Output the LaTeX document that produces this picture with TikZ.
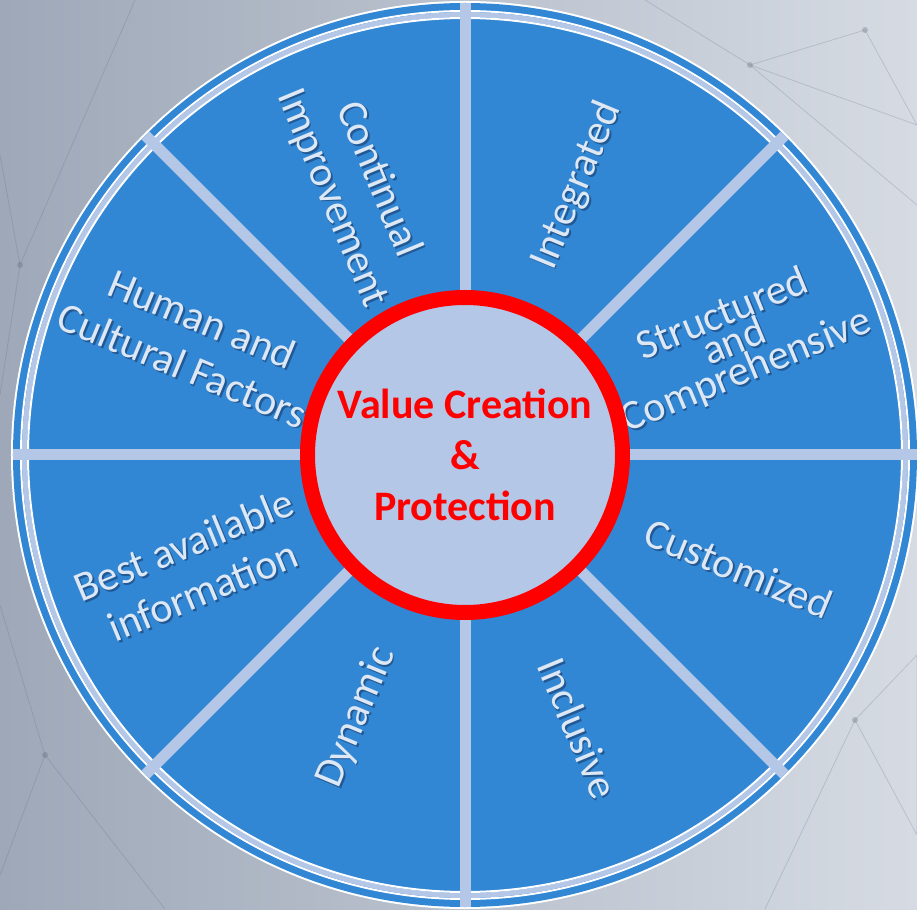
\documentclass[tikz,border=0pt]{standalone}
\usepackage{fontspec}
\setmainfont{Carlito}
\definecolor{bgL}{RGB}{158,168,184}
\definecolor{bgR}{RGB}{214,219,227}
\definecolor{wheel}{RGB}{50,135,213}
\definecolor{sepc}{RGB}{180,199,231}
\definecolor{lblc}{RGB}{222,232,244}
\definecolor{shadc}{RGB}{15,35,70}
\definecolor{netc}{RGB}{90,100,118}
\tikzset{
  x=1pt, y=1pt,
  lab/.style={text=lblc, font=\fontsize{42}{50}\selectfont, align=center, inner sep=0pt},
  labsh/.style={text=shadc, text opacity=0.45, font=\fontsize{42}{50}\selectfont, align=center, inner sep=0pt},
  tight/.style={font=\fontsize{42}{30.5}\selectfont},
  sepline/.style={draw=sepc, line width=11pt},
  net/.style={draw=netc, line width=0.8pt, opacity=0.22},
  netdot/.style={fill=netc, opacity=0.3},
  core/.style={circle, draw=red, line width=15pt, fill=sepc, minimum size=315pt, inner sep=0pt,
     text=red, font=\fontsize{42}{51}\selectfont\bfseries, align=center},
}
\newcommand\wlabel[6]{% name, angle, radius, rotation, extra style, text
  \node[labsh, rotate=#4, #5] (#1sh) at ([shift={(1.8,-1.8)}]#2:#3) {#6};
  \node[lab, rotate=#4, #5] (#1) at (#2:#3) {#6};}
\begin{document}
\begin{tikzpicture}
\useasboundingbox (-465,-454) rectangle (452,455);
\fill[left color=bgL, right color=bgR] (-465,-454) rectangle (452,455);
% faint network in the background
\coordinate (n1) at (285,390);
\coordinate (n2) at (400,425);
\coordinate (n3) at (452,330);
\coordinate (n4) at (180,455);
\coordinate (n5) at (390,-265);
\coordinate (n6) at (452,-200);
\coordinate (n7) at (452,-380);
\coordinate (n8) at (300,-454);
\coordinate (n9) at (-445,190);
\coordinate (n10) at (-465,300);
\coordinate (n11) at (-330,455);
\coordinate (n12) at (-420,-300);
\coordinate (n13) at (-465,-150);
\coordinate (n14) at (-300,-454);
\draw[net] (n1) -- (n2) (n1) -- (n3) (n1) -- (n4) (n2) -- (n3) (n1) -- (452,250);
\draw[net] (n5) -- (n6) (n5) -- (n7) (n5) -- (n8) (n6) -- (n7);
\draw[net] (n9) -- (n10) (n9) -- (n11) (n9) -- (-465,60);
\draw[net] (n12) -- (n13) (n12) -- (n14) (n12) -- (-465,-420);
\foreach \n in {n1,n2,n5,n9,n12} \fill[netdot] (\n) circle (3);
% wheel
\fill[white] (0,0) circle (454);
\fill[wheel] (0,0) circle (452);
\draw[white, line width=2pt] (0,0) circle (444);
\draw[sepc, line width=5pt] (0,0) circle (440.5);
\draw[white, line width=2pt] (0,0) circle (437);
\coordinate (c) at (0,0);
\foreach \a in {0,45,...,315} {
  \coordinate (e\a) at (\a:452);
  \draw[sepline] (c) -- (e\a);
}
% labels
\wlabel{integ}{67.5}{292}{67.5}{}{Integrated}
\wlabel{struct}{22.5}{292}{22.5}{tight}{Structured\\and\\Comprehensive}
\wlabel{cust}{-22.5}{296}{-22.5}{}{Customized}
\wlabel{incl}{-67.5}{296}{-67.5}{}{Inclusive}
\wlabel{dyn}{-112.5}{284}{67.5}{}{Dynamic}
\wlabel{best}{-157.5}{294}{22.5}{}{Best available\\information}
\wlabel{human}{157.5}{295}{-22.5}{}{Human and\\Cultural Factors}
\wlabel{cont}{112.5}{288}{-67.5}{}{Continual\\Improvement}
% centre
\node[core] (centre) at (c) {Value Creation\\\&\\Protection};
\end{tikzpicture}
\end{document}
